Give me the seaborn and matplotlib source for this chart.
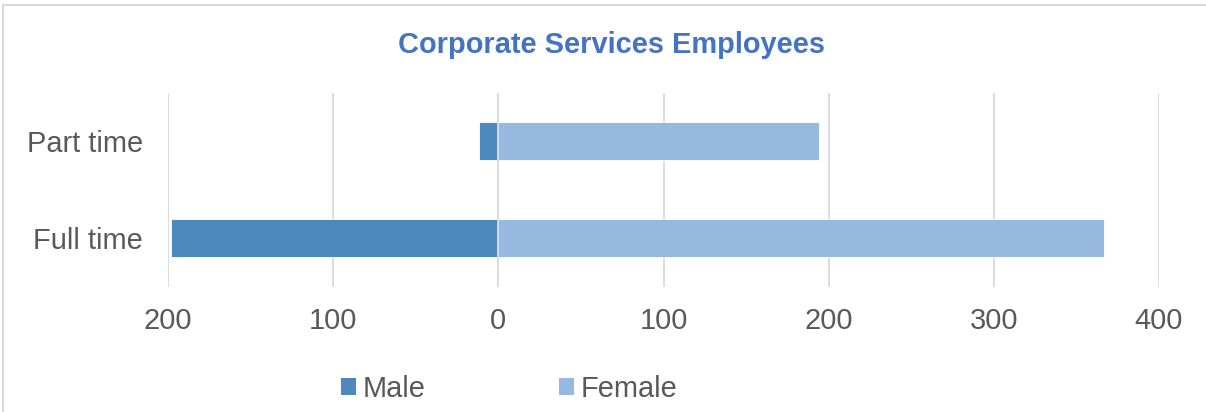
import matplotlib
matplotlib.use("Agg")
import matplotlib.pyplot as plt
import seaborn as sns
import pandas as pd
from matplotlib.patches import Patch
from matplotlib.lines import Line2D

categories = ["Part time", "Full time"]
male = [12, 198]
female = [194, 367]
series_names = ["Male", "Female"]
xticks = [-200, -100, 0, 100, 200, 300, 400]
title = "Corporate Services Employees"

male_color = "#4E89BD"
female_color = "#97B8DF"
text_color = "#595959"
grid_color = "#D9D9D9"

rows = []
for c, m, f in zip(categories, male, female):
    rows.append({"category": c, "gender": "Male", "value": -m})
    rows.append({"category": c, "gender": "Female", "value": f})
df = pd.DataFrame(rows)

sns.set_style("white")
plt.rcParams["font.family"] = ["Liberation Sans", "DejaVu Sans"]
FS = 20.9

fig = plt.figure(figsize=(12.06, 4.12), dpi=100)
ax_top, ax_bot = 92.5, 286.5
ax = fig.add_axes([168 / 1206, 1 - ax_bot / 412, (1159 - 168) / 1206, (ax_bot - ax_top) / 412])

sns.barplot(data=df, y="category", x="value", hue="gender", order=categories,
            hue_order=series_names, palette=[male_color, female_color],
            dodge=False, width=0.395, orient="h", ax=ax, legend=False, saturation=1,
            edgecolor="white", linewidth=0.6, zorder=2)

ax.set_xlim(-200, 400)
ax.set_ylim(1.5, -0.5)
ax.set_xticks(xticks)
ax.set_xticklabels([str(abs(t)) for t in xticks])
for t in xticks:
    ax.axvline(t, color=grid_color, lw=1.3, zorder=3 if t == 0 else 0.5)
ax.set_xlabel("")
ax.set_ylabel("")
for s in ax.spines.values():
    s.set_visible(False)
ax.tick_params(axis="both", length=0, labelsize=FS, labelcolor=text_color)
ax.tick_params(axis="y", pad=18)
ax.tick_params(axis="x", pad=15)

fig.text(611 / 1206, 1 - 45 / 412, title, ha="center", va="center",
         fontsize=FS, fontweight="bold", color="#4472C4")

handles = [Patch(facecolor=male_color, edgecolor="none"),
           Patch(facecolor=female_color, edgecolor="none")]
leg = fig.legend(handles, series_names, loc="center", bbox_to_anchor=(509 / 1206, 1 - 389 / 412),
                 ncol=2, frameon=False, fontsize=FS, handlelength=0.52, handleheight=0.52,
                 handletextpad=0.22, columnspacing=4.6, borderpad=0, borderaxespad=0)
for t in leg.get_texts():
    t.set_color(text_color)

# chart frame border
fig.add_artist(Line2D([3.5 / 1206, 1.0], [1 - 5 / 412, 1 - 5 / 412], transform=fig.transFigure,
                      color=grid_color, lw=1.5))
fig.add_artist(Line2D([3.5 / 1206, 3.5 / 1206], [0, 1 - 5 / 412], transform=fig.transFigure,
                      color=grid_color, lw=1.5))

fig.savefig("out.png", dpi=100, facecolor="white")
